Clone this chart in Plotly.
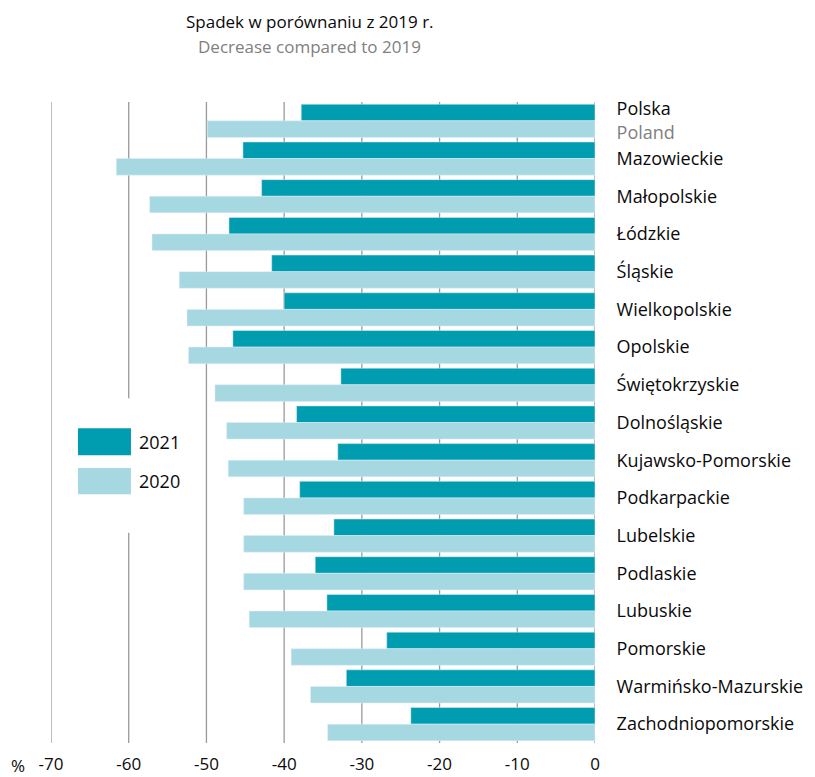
import plotly.graph_objects as go

DARK = "#009cb0"
LIGHT = "#a6d8e2"
GRID = "#9a9a9a"
FONT = "Open Sans, sans-serif"

regions = ["Polska", "Mazowieckie", "Małopolskie", "Łódzkie", "Śląskie",
           "Wielkopolskie", "Opolskie", "Świętokrzyskie", "Dolnośląskie",
           "Kujawsko-Pomorskie", "Podkarpackie", "Lubelskie", "Podlaskie",
           "Lubuskie", "Pomorskie", "Warmińsko-Mazurskie", "Zachodniopomorskie"]
region_labels = ["Polska<br><span style='color:#808080'>Poland</span>"] + regions[1:]

v2021 = [-37.8, -45.3, -42.9, -47.1, -41.6, -40.0, -46.6, -32.7, -38.4,
         -33.1, -38.0, -33.6, -36.0, -34.5, -26.8, -32.0, -23.7]
v2020 = [-49.9, -61.6, -57.3, -57.0, -53.5, -52.5, -52.3, -48.9, -47.4,
         -47.2, -45.2, -45.2, -45.2, -44.5, -39.1, -36.6, -34.4]

x_ticks = [-70, -60, -50, -40, -30, -20, -10, 0]
x_tick_text = ["-70", "-60", "-50", "-40", "-30", "-20", "-10", "0"]

fig = go.Figure()
fig.add_trace(go.Bar(y=regions, x=v2021, orientation="h", name="2021",
                     marker_color=DARK, showlegend=False))
fig.add_trace(go.Bar(y=regions, x=v2020, orientation="h", name="2020",
                     marker_color=LIGHT, showlegend=False))

fig.update_layout(
    width=815, height=777,
    margin=dict(l=51, r=220, t=102, b=34),
    paper_bgcolor="white", plot_bgcolor="white",
    font=dict(family=FONT, size=18, color="#0a0a0a"),
    barmode="group", bargap=0.12, bargroupgap=0,
)
fig.update_xaxes(range=[-70, 0], tickvals=x_ticks, ticktext=x_tick_text,
                 showgrid=False, zeroline=False, automargin=False,
                 ticks="outside", ticklen=6, tickcolor="rgba(0,0,0,0)",
                 showline=False, tickfont=dict(size=17))
fig.update_yaxes(autorange="reversed", side="right", showgrid=False,
                 automargin=False, tickvals=regions, ticktext=region_labels,
                 ticks="outside", ticklen=17, tickcolor="rgba(0,0,0,0)",
                 tickfont=dict(size=18))

# vertical gridlines; the -60 line is interrupted behind the legend
for t in x_ticks:
    segs = [(0, 0.328), (0.538, 1)] if t == -60 else [(0, 1)]
    for y0, y1 in segs:
        fig.add_shape(type="line", xref="x", yref="paper", x0=t, x1=t,
                      y0=y0, y1=y1, line=dict(color=GRID, width=1.3),
                      layer="below")

# legend
for col, lab, y0, y1 in [(DARK, "2021", 0.449, 0.491), (LIGHT, "2020", 0.388, 0.429)]:
    fig.add_shape(type="rect", xref="paper", yref="paper", x0=0.0496, x1=0.147,
                  y0=y0, y1=y1, fillcolor=col, line_width=0)
    fig.add_annotation(text=lab, xref="paper", yref="paper", x=0.158,
                       y=(y0 + y1) / 2, xanchor="left", yanchor="middle",
                       showarrow=False, font=dict(size=18))

fig.add_annotation(text="Spadek w porównaniu z 2019 r.", xref="paper", yref="paper",
                   x=0.476, y=1.125, xanchor="center", yanchor="middle",
                   showarrow=False, font=dict(size=17, color="#0a0a0a"))
fig.add_annotation(text="Decrease compared to 2019", xref="paper", yref="paper",
                   x=0.476, y=1.086, xanchor="center", yanchor="middle",
                   showarrow=False, font=dict(size=17, color="#808080"))
fig.add_annotation(text="%", xref="paper", yref="paper", x=-0.061, y=-0.035,
                   xanchor="center", yanchor="middle",
                   showarrow=False, font=dict(size=17))

fig.write_html("out.html", config={"displayModeBar": False},
               post_script="document.body.style.margin='0';")
